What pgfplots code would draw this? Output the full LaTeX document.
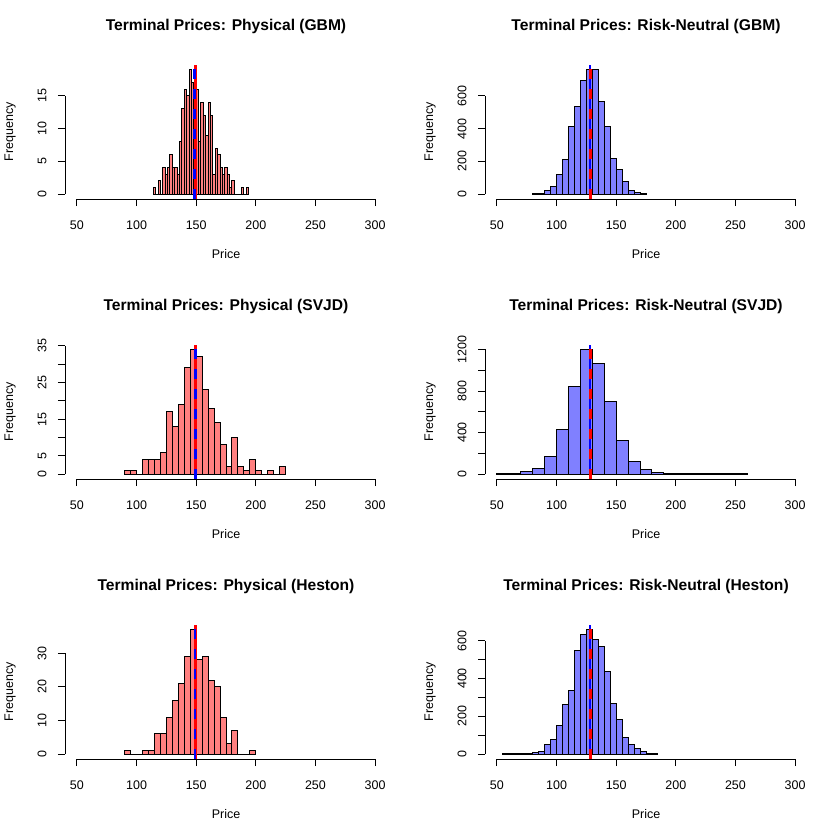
\documentclass[border=0pt]{standalone}
\usepackage{fontspec}
\setmainfont{Liberation Sans}
\usepackage{pgfplots}
\pgfplotsset{compat=1.18}

\definecolor{physfill}{RGB}{255,128,128}
\definecolor{rnfill}{RGB}{128,128,255}

% R-like hist panel
\pgfplotsset{
  rhist/.style={
    scale only axis, width=322bp, height=134.4bp,
    xmin=40, xmax=310,
    clip mode=individual,
    axis line style={draw=none},
    xtick pos=bottom, ytick pos=left,
    xtick={50,100,...,300},
    tick align=outside, major tick length=7bp,
    tick style={black, line width=0.9bp},
    scaled y ticks=false,
    /pgf/number format/assume math mode=true,
    /pgf/number format/set thousands separator={},
    tick label style={font=\fontsize{12.5bp}{15bp}\selectfont},
    xticklabel style={yshift=-11bp},
    % rotated frame: yshift moves the label to the left on the page
    yticklabel style={rotate=90, anchor=south, yshift=8bp},
    title style={font=\bfseries\fontsize{15.6bp}{18bp}\selectfont,
      at={(0.5,1)}, anchor=center, yshift=32.6bp},
    xlabel={Price}, ylabel={Frequency},
    label style={font=\fontsize{12.5bp}{15bp}\selectfont},
    xlabel style={at={(0.5,0)}, anchor=center, yshift=-55bp},
    ylabel style={at={(0,0.5)}, anchor=center, yshift=55bp},
  },
  bars/.style={ybar interval, draw=black, line width=1bp, fill=#1},
  vsolid/.style={#1, line width=2.5bp},
  vdash/.style={#1, line width=2.5bp, dash pattern=on 10bp off 10bp},
}
\newcommand\rax[2]{%
  \draw[line width=0.9bp] (axis cs:50,#1) -- (axis cs:300,#1);
  \draw[line width=0.9bp] (axis cs:40,0) -- (axis cs:40,#2);
}

\begin{document}
\begin{tikzpicture}
\useasboundingbox (0,0) rectangle (840bp,-840bp);

% ---- Physical (GBM)
\begin{axis}[rhist, at={(65bp,-199bp)}, anchor=south west,
  ymin=-0.76, ymax=19.76, ytick={0,5,10,15},
  title={Terminal Prices: Physical (GBM)}]
\addplot[bars=physfill] table {
x y
114 1
116 0
118 2
120 0
122 4
124 3
126 4
128 6
130 4
132 4
134 3
136 8
138 13
140 16
142 15
144 19
146 17
148 14
150 16
152 8
154 14
156 12
158 9
160 14
162 12
164 3
166 7
168 6
170 4
172 3
174 4
176 3
178 1
180 2
182 0
184 0
186 0
188 1
190 0
192 1
194 0
};
\addplot[vsolid=red] coordinates {(149.6,-0.76)(149.6,19.76)};
\addplot[vdash=blue] coordinates {(148.6,-0.76)(148.6,19.76)};
\rax{-0.76}{15}
\end{axis}

% ---- Risk-Neutral (GBM)
\begin{axis}[rhist, at={(485bp,-199bp)}, anchor=south west,
  ymin=-30.44, ymax=791.44, ytick={0,200,400,600},
  title={Terminal Prices: Risk-Neutral (GBM)}]
\addplot[bars=rnfill] table {
x y
80 2
85 5
90 24
95 43
100 120
105 212
110 410
115 535
120 696
125 761
130 761
135 565
140 412
145 218
150 147
155 75
160 24
165 8
170 3
175 0
};
\addplot[vsolid=blue] coordinates {(128.1,-30.44)(128.1,791.44)};
\addplot[vdash=red] coordinates {(128.3,-30.44)(128.3,791.44)};
\rax{-30.44}{600}
\end{axis}

% ---- Physical (SVJD)
\begin{axis}[rhist, at={(65bp,-479bp)}, anchor=south west,
  ymin=-1.36, ymax=35.36, ytick={0,5,...,35},
  yticklabels={0,5,,15,,25,,35},
  title={Terminal Prices: Physical (SVJD)}]
\addplot[bars=physfill] table {
x y
90 1
95 1
100 0
105 4
110 4
115 4
120 6
125 17
130 13
135 19
140 29
145 34
150 32
155 23
160 18
165 14
170 8
175 2
180 10
185 2
190 1
195 4
200 1
205 0
210 1
215 0
220 2
225 0
};
\addplot[vsolid=red] coordinates {(149.6,-1.36)(149.6,35.36)};
\addplot[vdash=blue] coordinates {(149.3,-1.36)(149.3,35.36)};
\rax{-1.36}{35}
\end{axis}

% ---- Risk-Neutral (SVJD)
\begin{axis}[rhist, at={(485bp,-479bp)}, anchor=south west,
  ymin=-47.96, ymax=1246.96, ytick={0,200,...,1200},
  yticklabels={0,,400,,800,,1200},
  title={Terminal Prices: Risk-Neutral (SVJD)}]
\addplot[bars=rnfill] table {
x y
50 1
60 3
70 26
80 51
90 167
100 431
110 842
120 1199
130 1067
140 701
150 325
160 119
170 42
180 13
190 6
200 3
210 6
220 2
230 2
240 2
250 3
260 0
};
\addplot[vsolid=blue] coordinates {(128.1,-47.96)(128.1,1246.96)};
\addplot[vdash=red] coordinates {(128.3,-47.96)(128.3,1246.96)};
\rax{-47.96}{1200}
\end{axis}

% ---- Physical (Heston)
\begin{axis}[rhist, at={(65bp,-759bp)}, anchor=south west,
  ymin=-1.48, ymax=38.48, ytick={0,10,20,30},
  title={Terminal Prices: Physical (Heston)}]
\addplot[bars=physfill] table {
x y
90 1
95 0
100 0
105 1
110 1
115 6
120 6
125 11
130 16
135 21
140 29
145 37
150 28
155 29
160 22
165 20
170 11
175 3
180 7
185 0
190 0
195 1
200 0
};
\addplot[vsolid=red] coordinates {(149.5,-1.48)(149.5,38.48)};
\addplot[vdash=blue] coordinates {(149.2,-1.48)(149.2,38.48)};
\rax{-1.48}{30}
\end{axis}

% ---- Risk-Neutral (Heston)
\begin{axis}[rhist, at={(485bp,-759bp)}, anchor=south west,
  ymin=-26.36, ymax=685.36, ytick={0,100,...,600},
  yticklabels={0,,200,,400,,600},
  title={Terminal Prices: Risk-Neutral (Heston)}]
\addplot[bars=rnfill] table {
x y
55 1
60 1
65 1
70 1
75 3
80 10
85 14
90 50
95 78
100 150
105 260
110 336
115 548
120 634
125 659
130 606
135 569
140 436
145 269
150 184
155 88
160 48
165 30
170 14
175 4
180 1
185 0
};
\addplot[vsolid=blue] coordinates {(128.1,-26.36)(128.1,685.36)};
\addplot[vdash=red] coordinates {(128.3,-26.36)(128.3,685.36)};
\rax{-26.36}{600}
\end{axis}
\end{tikzpicture}
\end{document}
